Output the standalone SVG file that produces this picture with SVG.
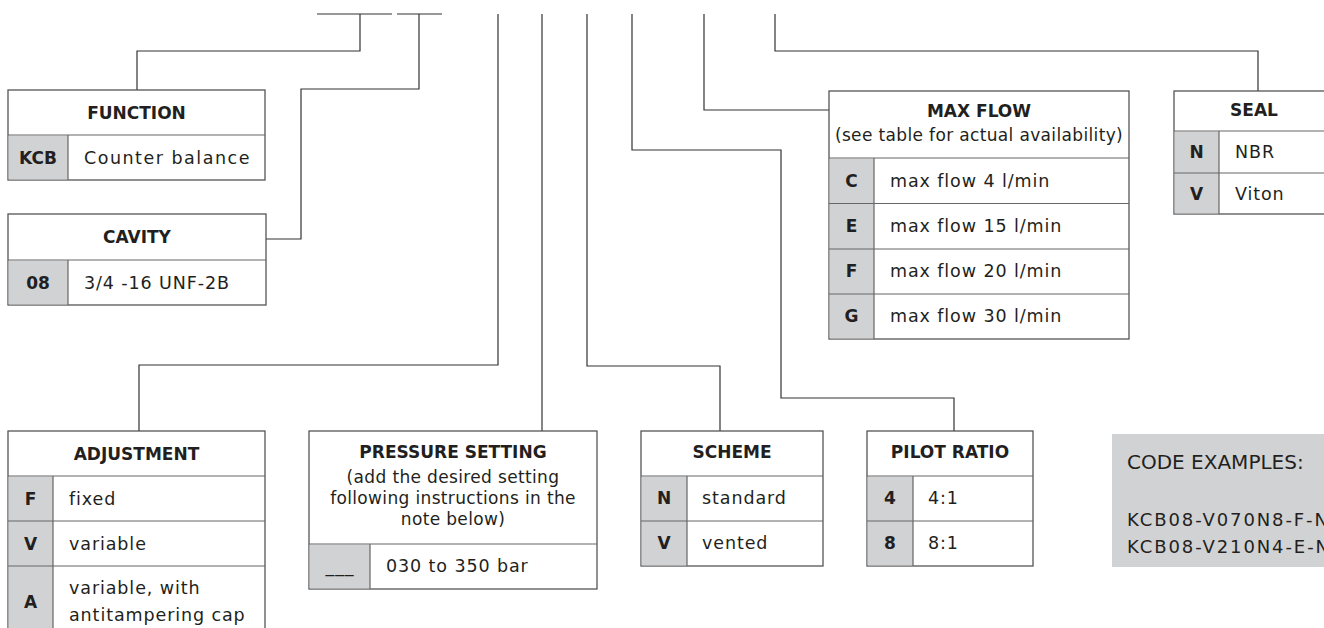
<svg xmlns="http://www.w3.org/2000/svg" width="1324" height="628" viewBox="0 0 1324 628">
<style>
.box{fill:#fff;stroke:#555;stroke-width:1.3}
.code{fill:#d1d2d4}
.div{stroke:#666;stroke-width:1.2;fill:none}
.con{stroke:#333;stroke-width:1.2;fill:none}
text{fill:#231f20;font-family:"DejaVu Sans",Verdana,sans-serif}
.h{font-weight:bold;font-size:17px;text-anchor:middle}
.k{font-weight:bold;font-size:17px;text-anchor:middle}
.t{font-size:17.5px;letter-spacing:0.9px}
.p{font-size:17px;letter-spacing:0.35px;text-anchor:middle}
.ex{font-size:20px}
.exl{font-size:18px;letter-spacing:1.9px}
</style>
<rect width="1324" height="628" fill="#fff"/>
<g id="connectors">
<path class="con" d="M317,14H392M397,14H442"/>
<path class="con" d="M360,14V51H137V90"/>
<path class="con" d="M419,14V89H301V239H266"/>
<path class="con" d="M498,14V365H139V431"/>
<path class="con" d="M542,14V431"/>
<path class="con" d="M587,14V366H720V431"/>
<path class="con" d="M632,14V150H781V398H954V431"/>
<path class="con" d="M704,14V110H829"/>
<path class="con" d="M775,14V51H1258V91"/>
</g>
<g id="function">
<rect class="box" x="8" y="90" width="257" height="90"/>
<rect class="code" x="8.6" y="135.6" width="59.4" height="43.8"/>
<path class="div" d="M8,135H265M68,135V180"/>
<text class="h" x="136.5" y="119">FUNCTION</text>
<text class="k" x="38" y="164">KCB</text>
<text class="t" x="84" y="164" style="letter-spacing:1.5px">Counter balance</text>
</g>
<g id="cavity">
<rect class="box" x="8" y="214" width="258" height="91"/>
<rect class="code" x="8.6" y="260.6" width="59.4" height="43.8"/>
<path class="div" d="M8,260H266M68,260V305"/>
<text class="h" x="137" y="243">CAVITY</text>
<text class="k" x="38" y="289">08</text>
<text class="t" x="84" y="289">3/4 -16 UNF-2B</text>
</g>
<g id="adjustment">
<rect class="box" x="8" y="431" width="257" height="210"/>
<rect class="code" x="8.6" y="476.6" width="44.4" height="164"/>
<path class="div" d="M8,476H265M8,521H265M8,566H265M53,476V641"/>
<text class="h" x="136.5" y="460">ADJUSTMENT</text>
<text class="k" x="30.5" y="505">F</text>
<text class="t" x="69" y="505">fixed</text>
<text class="k" x="30.5" y="550">V</text>
<text class="t" x="69" y="550">variable</text>
<text class="k" x="30.5" y="608">A</text>
<text class="t" x="69" y="594">variable, with</text>
<text class="t" x="69" y="621">antitampering cap</text>
</g>
<g id="pressure">
<rect class="box" x="309" y="431" width="288" height="158"/>
<rect class="code" x="309.6" y="544.6" width="60.4" height="43.8"/>
<path class="div" d="M309,544H597M370,544V589"/>
<text class="h" x="453" y="458">PRESSURE SETTING</text>
<text class="p" x="453" y="483">(add the desired setting</text>
<text class="p" x="453" y="504">following instructions in the</text>
<text class="p" x="453" y="525">note below)</text>
<text class="t" x="340" y="572" text-anchor="middle">___</text>
<text class="t" x="386" y="572">030 to 350 bar</text>
</g>
<g id="scheme">
<rect class="box" x="641" y="431" width="182" height="135"/>
<rect class="code" x="641.6" y="476.6" width="45.4" height="88.8"/>
<path class="div" d="M641,476H823M641,521H823M687,476V566"/>
<text class="h" x="732" y="458">SCHEME</text>
<text class="k" x="664" y="504">N</text>
<text class="t" x="702" y="504">standard</text>
<text class="k" x="664" y="549">V</text>
<text class="t" x="702" y="549">vented</text>
</g>
<g id="pilot">
<rect class="box" x="867" y="431" width="166" height="135"/>
<rect class="code" x="867.6" y="476.6" width="45.4" height="88.8"/>
<path class="div" d="M867,476H1033M867,521H1033M913,476V566"/>
<text class="h" x="950" y="458">PILOT RATIO</text>
<text class="k" x="890" y="504">4</text>
<text class="t" x="928" y="504">4:1</text>
<text class="k" x="890" y="549">8</text>
<text class="t" x="928" y="549">8:1</text>
</g>
<g id="maxflow">
<rect class="box" x="829" y="91" width="300" height="248"/>
<rect class="code" x="829.6" y="158.6" width="44.4" height="179.8"/>
<path class="div" d="M829,158H1129M829,203.5H1129M829,249H1129M829,294H1129M874,158V339"/>
<text class="h" x="979" y="117">MAX FLOW</text>
<text class="p" x="979" y="141">(see table for actual availability)</text>
<text class="k" x="851.5" y="187">C</text>
<text class="t" x="890" y="187">max flow 4 l/min</text>
<text class="k" x="851.5" y="232">E</text>
<text class="t" x="890" y="232">max flow 15 l/min</text>
<text class="k" x="851.5" y="277">F</text>
<text class="t" x="890" y="277">max flow 20 l/min</text>
<text class="k" x="851.5" y="322">G</text>
<text class="t" x="890" y="322">max flow 30 l/min</text>
</g>
<g id="seal">
<rect class="box" x="1174" y="91" width="160" height="123"/>
<rect class="code" x="1174.6" y="131.6" width="44.4" height="81.8"/>
<path class="div" d="M1174,131H1334M1174,173H1334M1219,131V214"/>
<text class="h" x="1254" y="116">SEAL</text>
<text class="k" x="1196.5" y="158">N</text>
<text class="t" x="1235" y="158">NBR</text>
<text class="k" x="1196.5" y="200">V</text>
<text class="t" x="1235" y="200">Viton</text>
</g>
<g id="examples">
<rect x="1112" y="434" width="220" height="133" fill="#d1d2d4"/>
<text class="ex" x="1127" y="469">CODE EXAMPLES:</text>
<text class="exl" x="1127" y="526">KCB08-V070N8-F-N</text>
<text class="exl" x="1127" y="553">KCB08-V210N4-E-N</text>
</g>
</svg>
